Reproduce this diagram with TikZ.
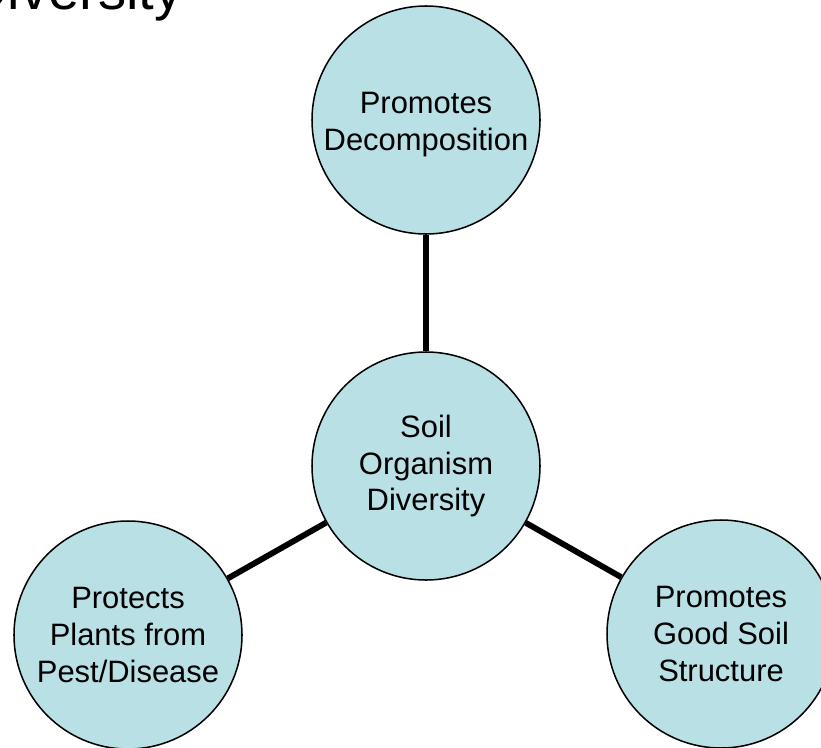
\documentclass[tikz,border=0pt]{standalone}
\usepackage{fontspec}
\setmainfont{Liberation Sans}
\definecolor{soilblue}{RGB}{185,224,228}
\tikzset{
  topic/.style={circle, draw=black, line width=1.3pt, fill=soilblue, minimum size=6.84cm, inner sep=0pt,
    align=center, font=\fontsize{26.4}{31.5}\selectfont},
  link/.style={line width=5pt, black}
}
\begin{document}
\begin{tikzpicture}[x=0.03cm, y=-0.03cm]
  \useasboundingbox (0,0) rectangle (821,747);
  \clip (0,0) rectangle (821,747);
  \fill[white] (0,0) rectangle (821,747);
  % cut-off title
  \node[anchor=base east, inner sep=0pt, font=\fontsize{48}{58}\selectfont] (title) at (183,9) {Diversity};
  % circles
  \node[topic] (soil) at (426,466) {Soil\\Organism\\Diversity};
  \node[topic] (decomp) at (426,120) {\raisebox{-4.2pt}[\height][\depth]{\begin{tabular}{@{}c@{}}Promotes\\Decomposition\end{tabular}}};
  \node[topic] (pest) at (128,635) {Protects\\Plants from\\Pest/Disease};
  \node[topic] (struct) at (721,634) {Promotes\\Good Soil\\Structure};
  % spokes
  \draw[link] (soil) -- (decomp);
  \draw[link] (soil) -- (pest);
  \draw[link] (soil) -- (struct);
\end{tikzpicture}
\end{document}
